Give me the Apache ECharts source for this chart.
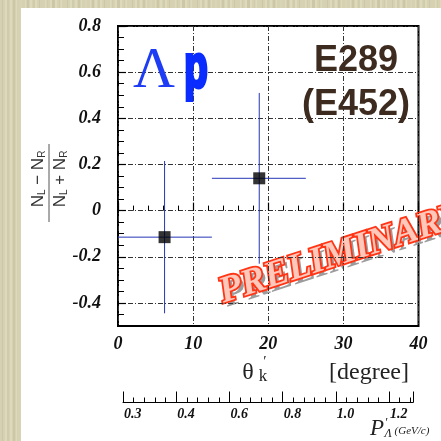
<!DOCTYPE html>
<html>
<head>
<meta charset="utf-8">
<script src="https://cdn.jsdelivr.net/npm/echarts@6/dist/echarts.min.js"></script>
<style>
  html, body { margin: 0; padding: 0; }
  body {
    width: 441px; height: 441px; overflow: hidden; position: relative;
    background-color: #d6d1b1;
    background-image:
      repeating-linear-gradient(90deg, rgba(255,255,240,0.18) 0px, rgba(255,255,240,0.18) 2px, rgba(0,0,0,0) 2px, rgba(0,0,0,0) 5px),
      repeating-linear-gradient(90deg, rgba(120,110,70,0.10) 0px, rgba(120,110,70,0.10) 3px, rgba(0,0,0,0) 3px, rgba(0,0,0,0) 7px, rgba(120,110,70,0.06) 7px, rgba(120,110,70,0.06) 9px, rgba(0,0,0,0) 9px, rgba(0,0,0,0) 13px);
  }
  #panel { position: absolute; left: 21px; top: 8px; right: 0; bottom: 0; background: #ffffff; }
  #chart { position: absolute; left: 0; top: 0; width: 441px; height: 441px; }
</style>
</head>
<body>
<div id="panel"></div>
<div id="chart"></div>
<script>
// Measured left-right asymmetry versus kaon angle
const angleDeg  = [6.2, 18.8];        // bin centroid, degrees
const angleLo   = [0.0, 12.5];        // bin lower edge
const angleHi   = [12.5, 25.0];       // bin upper edge
const asym      = [-0.115, 0.140];    // (N_L - N_R)/(N_L + N_R)
const asymErr   = [0.33, 0.37];       // statistical error

// Axis ticks
const asymTicks      = [-0.4, -0.2, 0, 0.2, 0.4, 0.6, 0.8];
const asymTickLabels = ['-0.4', '-0.2', '0', '0.2', '0.4', '0.6', '0.8'];
const momentumLabels = ['0.3', '0.4', '0.6', '0.8', '1.0', '1.2'];

const serifBI = { fontFamily: '"Liberation Serif", "DejaVu Serif", serif', fontWeight: 'bold', fontStyle: 'italic' };
const sans = '"Liberation Sans", Arial, sans-serif';
const barColor = '#2636b4';
const gridDash = [5, 2, 1, 2];

const points = angleDeg.map((x, i) => [x, asym[i]]);
const bars = angleDeg.map((x, i) => [x, asym[i], angleLo[i], angleHi[i], asym[i] - asymErr[i], asym[i] + asymErr[i]]);

function asymLabel(v) {
  for (let i = 0; i < asymTicks.length; i++) {
    if (Math.abs(asymTicks[i] - v) < 1e-6) return asymTickLabels[i];
  }
  return '';
}

function momentumLabel(v) {
  const i = Math.round(v);
  if (Math.abs(v - i) > 1e-6 || i >= momentumLabels.length) return '';
  return i === momentumLabels.length - 1 ? '{hi|' + momentumLabels[i] + '}' : momentumLabels[i];
}

const fracRich = {
  n: { fontFamily: sans, fontSize: 17, fill: '#333', lineHeight: 18 },
  s: { fontFamily: sans, fontSize: 10, fill: '#333', verticalAlign: 'bottom', lineHeight: 18 }
};

const chart = echarts.init(document.getElementById('chart'), null, { renderer: 'canvas' });

const option = {
  backgroundColor: 'transparent',
  animation: false,
  grid: [
    { left: 118, right: 22.5, top: 26, bottom: 115, show: true, borderColor: '#000', borderWidth: 2, backgroundColor: 'transparent', containLabel: false },
    { left: 123, right: 28, top: 401.5, height: 1, show: false, containLabel: false }
  ],
  xAxis: [
    {
      type: 'value', gridIndex: 0, min: 0, max: 40, interval: 10, position: 'bottom',
      axisLine: { show: false },
      axisTick: { show: true, inside: true, length: 8, lineStyle: { color: '#000', width: 1.2 } },
      minorTick: { show: true, splitNumber: 5, length: 5, lineStyle: { color: '#000', width: 1 } },
      axisLabel: Object.assign({ margin: 9, fontSize: 18, color: '#111' }, serifBI),
      splitLine: { show: true, lineStyle: { color: '#333', width: 1, type: gridDash } }
    },
    {
      type: 'value', gridIndex: 1, min: 0, max: 5.45, interval: 1, position: 'bottom',
      axisLine: { show: true, onZero: false, lineStyle: { color: '#000', width: 1 } },
      axisTick: { show: true, inside: true, length: 11, lineStyle: { color: '#000', width: 1 } },
      minorTick: { show: true, splitNumber: 5, length: 5, lineStyle: { color: '#000', width: 1 } },
      axisLabel: Object.assign({
        margin: 5, fontSize: 14, color: '#111', align: 'left', padding: [0, 0, 0, 1],
        formatter: momentumLabel,
        rich: { hi: Object.assign({ fontSize: 14, color: '#111', padding: [0, 0, 9, 0] }, serifBI) }
      }, serifBI),
      splitLine: { show: false }
    }
  ],
  yAxis: [
    {
      type: 'value', gridIndex: 0, min: -0.5, max: 0.8, position: 'left',
      axisLine: { show: false },
      axisTick: { show: true, inside: true, length: 8, customValues: asymTicks, lineStyle: { color: '#000', width: 1.2 } },
      axisLabel: Object.assign({ margin: 17, fontSize: 18, color: '#111', customValues: asymTicks, formatter: asymLabel }, serifBI),
      splitLine: { show: true, lineStyle: { color: '#333', width: 1, type: gridDash } }
    },
    {
      type: 'value', gridIndex: 0, min: -0.5, max: 0.8, interval: 0.05, position: 'left',
      axisLine: { show: false },
      axisTick: { show: true, inside: true, length: 6, lineStyle: { color: '#000', width: 1 } },
      axisLabel: { show: false },
      splitLine: { show: false }
    },
    {
      type: 'value', gridIndex: 1, min: 0, max: 1, show: false
    }
  ],
  series: [
    {
      type: 'custom', xAxisIndex: 0, yAxisIndex: 0, data: bars, z: 3,
      renderItem: (params, api) => {
        const xl = api.coord([api.value(2), api.value(1)]);
        const xh = api.coord([api.value(3), api.value(1)]);
        const yl = api.coord([api.value(0), api.value(4)]);
        const yh = api.coord([api.value(0), api.value(5)]);
        return {
          type: 'group',
          children: [
            { type: 'line', shape: { x1: xl[0], y1: xl[1], x2: xh[0], y2: xh[1] }, style: { stroke: barColor, lineWidth: 1 } },
            { type: 'line', shape: { x1: yl[0], y1: yl[1], x2: yh[0], y2: yh[1] }, style: { stroke: barColor, lineWidth: 1 } }
          ]
        };
      }
    },
    {
      type: 'scatter', xAxisIndex: 0, yAxisIndex: 0, data: points, z: 4,
      symbol: 'rect', symbolSize: 12, itemStyle: { color: '#000' }
    }
  ],
  graphic: [
    // vertical title: fraction
    {
      type: 'group', x: 49, y: 183, rotation: Math.PI / 2, z: 10,
      children: [
        { type: 'text', x: 4, y: -2, style: { text: '{n|N}{s|L}{n| − N}{s|R}', align: 'center', verticalAlign: 'bottom', rich: fracRich } },
        { type: 'line', shape: { x1: -39, y1: 0, x2: 39, y2: 0 }, style: { stroke: '#555', lineWidth: 1 } },
        { type: 'text', x: 4, y: 2, style: { text: '{n|N}{s|L}{n| + N}{s|R}', align: 'center', verticalAlign: 'top', rich: fracRich } }
      ]
    },
    // particle pair
    {
      type: 'text', x: 154, y: 72, z: 10,
      style: { text: 'Λ', font: 'normal 58px "Liberation Serif", serif', fill: '#1f3cf5', align: 'center', verticalAlign: 'middle' }
    },
    {
      type: 'text', x: 196, y: 70, scaleX: 0.62, z: 10,
      style: { text: 'p', font: 'bold 62px "Liberation Sans", Arial, sans-serif', fill: '#0a2cff', stroke: '#0a2cff', lineWidth: 4, align: 'center', verticalAlign: 'middle' }
    },
    // experiment labels
    {
      type: 'text', x: 356, y: 61.5, z: 10,
      style: { text: 'E289', font: 'bold 36px "Liberation Sans", Arial, sans-serif', fill: '#3d2b1f', align: 'center', verticalAlign: 'middle' }
    },
    {
      type: 'text', x: 356, y: 105.5, z: 10,
      style: { text: '(E452)', font: 'bold 36px "Liberation Sans", Arial, sans-serif', fill: '#3d2b1f', align: 'center', verticalAlign: 'middle' }
    },
    // stamp
    {
      type: 'group', x: 224, y: 305, rotation: 18 * Math.PI / 180, z: 5,
      children: [
        {
          type: 'text', x: 2.5, y: -7,
          style: { text: 'PRELIMINARY', font: 'italic bold 37px "Liberation Serif", serif', fill: '#9c9c9c', align: 'left', verticalAlign: 'middle' }
        },
        {
          type: 'text', x: 0, y: -12,
          style: { text: 'PRELIMINARY', font: 'italic bold 37px "Liberation Serif", serif', fill: '#ffc8bb', stroke: '#ff3516', lineWidth: 3.6, align: 'left', verticalAlign: 'middle' }
        }
      ]
    },
    // horizontal axis title
    {
      type: 'text', x: 248, y: 373, z: 10,
      style: { text: 'θ', font: 'normal 24px "Liberation Serif", serif', fill: '#222', align: 'center', verticalAlign: 'middle' }
    },
    {
      type: 'text', x: 263, y: 377, z: 10,
      style: { text: 'k', font: 'normal 17px "Liberation Serif", serif', fill: '#222', align: 'center', verticalAlign: 'middle' }
    },
    {
      type: 'text', x: 265, y: 362, z: 10,
      style: { text: '′', font: 'normal 15px "Liberation Serif", serif', fill: '#222', align: 'center', verticalAlign: 'middle' }
    },
    {
      type: 'text', x: 369, y: 373, z: 10,
      style: { text: '[degree]', font: 'normal 24px "Liberation Serif", serif', fill: '#222', align: 'center', verticalAlign: 'middle' }
    },
    // momentum axis title
    {
      type: 'text', x: 377, y: 429, z: 10,
      style: { text: 'P', font: 'italic normal 23px "Liberation Serif", serif', fill: '#222', align: 'center', verticalAlign: 'middle' }
    },
    {
      type: 'text', x: 386, y: 423, z: 10,
      style: { text: '′', font: 'italic normal 13px "Liberation Serif", serif', fill: '#222', align: 'center', verticalAlign: 'middle' }
    },
    {
      type: 'text', x: 388, y: 434, z: 10,
      style: { text: 'Λ', font: 'italic normal 12px "Liberation Serif", serif', fill: '#222', align: 'center', verticalAlign: 'middle' }
    },
    {
      type: 'text', x: 412, y: 431, z: 10,
      style: { text: '(GeV/c)', font: 'italic normal 11px "Liberation Serif", serif', fill: '#222', align: 'center', verticalAlign: 'middle' }
    }
  ]
};

chart.setOption(option);
</script>
</body>
</html>
